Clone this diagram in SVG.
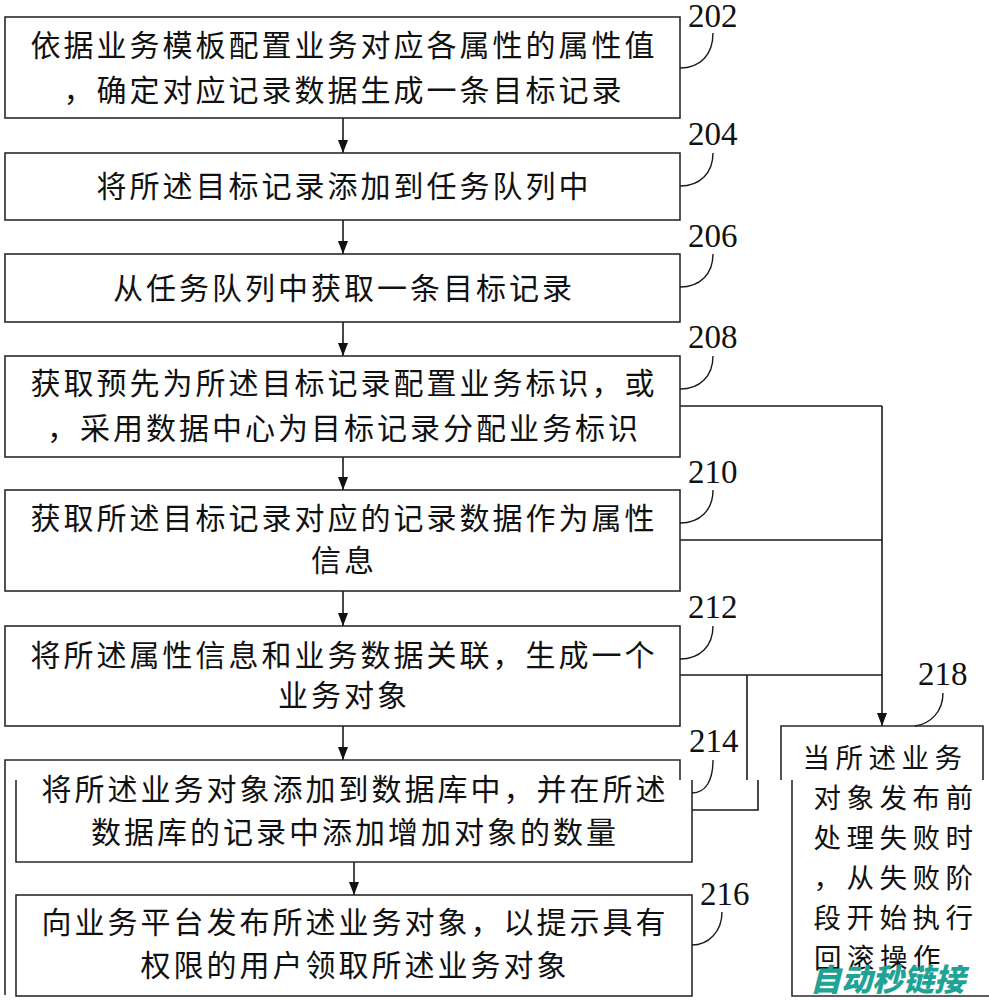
<svg xmlns="http://www.w3.org/2000/svg" width="989" height="1000" viewBox="0 0 989 1000">
<defs>
<marker id="ah" viewBox="0 0 13 10" refX="13" refY="5" markerWidth="13" markerHeight="10" markerUnits="userSpaceOnUse" orient="auto">
<path d="M0,0 L13,5 L0,10 Z" fill="#111"/>
</marker>
<style>
.box{fill:none;stroke:#2a2a2a;stroke-width:1.6}
.ln{fill:none;stroke:#1a1a1a;stroke-width:1.6}
.t{font-family:"Noto Sans CJK SC","Noto Sans CJK JP",sans-serif;font-size:30px;letter-spacing:3px;fill:#111;text-anchor:middle}
.s{font-family:"Noto Sans CJK SC","Noto Sans CJK JP",sans-serif;font-size:27.5px;letter-spacing:5.5px;fill:#111;text-anchor:middle}
.n{font-family:"Liberation Serif","Times New Roman",serif;font-size:33px;fill:#111}
.c{fill:none;stroke:#1a1a1a;stroke-width:1.4}
.wm{font-family:"Noto Sans CJK SC",sans-serif;font-size:31px;font-weight:900;font-style:italic;fill:#1fa395}
</style>
</defs>
<rect width="989" height="1000" fill="#fff"/>

<g id="connectors">
<line class="ln" x1="343" y1="118" x2="343" y2="153" marker-end="url(#ah)"/>
<line class="ln" x1="343" y1="220" x2="343" y2="254" marker-end="url(#ah)"/>
<line class="ln" x1="343" y1="322" x2="343" y2="356" marker-end="url(#ah)"/>
<line class="ln" x1="343" y1="457" x2="343" y2="490" marker-end="url(#ah)"/>
<line class="ln" x1="343" y1="591" x2="343" y2="626" marker-end="url(#ah)"/>
<line class="ln" x1="343" y1="726" x2="343" y2="760" marker-end="url(#ah)"/>
<line class="ln" x1="354" y1="862" x2="354" y2="895" marker-end="url(#ah)"/>
<path class="ln" d="M680,406 H882"/>
<path class="ln" d="M680,540 H882"/>
<path class="ln" d="M680,675 H882"/>
<line class="ln" x1="882" y1="406" x2="882" y2="726" marker-end="url(#ah)"/>
<path class="ln" d="M747,675 V780"/>
<path class="ln" d="M758,780 V810 H692"/>
</g>

<g id="n202">
<rect class="box" x="5" y="17" width="675" height="101"/>
<text class="t" x="344" y="56">依据业务模板配置业务对应各属性的属性值</text>
<text class="t" x="344" y="101">，确定对应记录数据生成一条目标记录</text>
<text class="n" x="688" y="27">202</text>
<path class="c" d="M713,33 C713,55 700,68 680,68"/>
</g>

<g id="n204">
<rect class="box" x="5" y="153" width="675" height="67"/>
<text class="t" x="344" y="197">将所述目标记录添加到任务队列中</text>
<text class="n" x="688" y="145">204</text>
<path class="c" d="M713,153 C713,173 700,186 680,186"/>
</g>

<g id="n206">
<rect class="box" x="5" y="254" width="675" height="68"/>
<text class="t" x="344" y="299">从任务队列中获取一条目标记录</text>
<text class="n" x="688" y="247">206</text>
<path class="c" d="M713,254 C713,274 700,287 680,287"/>
</g>

<g id="n208">
<rect class="box" x="5" y="356" width="675" height="101"/>
<text class="t" x="344" y="394">获取预先为所述目标记录配置业务标识，或</text>
<text class="t" x="344" y="439">，采用数据中心为目标记录分配业务标识</text>
<text class="n" x="688" y="348">208</text>
<path class="c" d="M713,356 C713,376 700,389 680,389"/>
</g>

<g id="n210">
<rect class="box" x="5" y="490" width="675" height="101"/>
<text class="t" x="344" y="529">获取所述目标记录对应的记录数据作为属性</text>
<text class="t" x="344" y="571">信息</text>
<text class="n" x="688" y="483">210</text>
<path class="c" d="M713,490 C713,510 700,523 680,523"/>
</g>

<g id="n212">
<rect class="box" x="5" y="626" width="675" height="100"/>
<text class="t" x="344" y="666">将所述属性信息和业务数据关联，生成一个</text>
<text class="t" x="344" y="706">业务对象</text>
<text class="n" x="688" y="618">212</text>
<path class="c" d="M713,626 C713,646 700,659 680,659"/>
</g>

<g id="n214">
<path class="box" d="M680,780 V760 H5 V995"/>
<path class="box" d="M16,780 V862 H692 V780"/>
<text class="t" x="355" y="800">将所述业务对象添加到数据库中，并在所述</text>
<text class="t" x="355" y="843">数据库的记录中添加增加对象的数量</text>
<text class="n" x="689" y="752">214</text>
<path class="c" d="M713,760 C713,780 706,793 692,793"/>
</g>

<g id="n216">
<rect class="box" x="16" y="895" width="676" height="101"/>
<text class="t" x="355" y="933">向业务平台发布所述业务对象，以提示具有</text>
<text class="t" x="355" y="976">权限的用户领取所述业务对象</text>
<text class="n" x="700" y="905">216</text>
<path class="c" d="M722,912 C722,932 708,945 692,945"/>
</g>

<g id="n218">
<path class="box" d="M781,780 V726 H983 V780"/>
<path class="box" d="M792,780 V996 H995"/>
<text class="s" x="885" y="768">当所述业务</text>
<text class="s" x="896" y="808">对象发布前</text>
<text class="s" x="896" y="848">处理失败时</text>
<text class="s" x="896" y="888">，从失败阶</text>
<text class="s" x="896" y="928">段开始执行</text>
<text class="s" x="880" y="968">回滚操作</text>
<text class="n" x="918" y="685">218</text>
<path class="c" d="M943,693 C943,712 930,724 915,726"/>
</g>

<text class="wm" x="810" y="991" textLength="155" lengthAdjust="spacingAndGlyphs">自动秒链接</text>
</svg>
